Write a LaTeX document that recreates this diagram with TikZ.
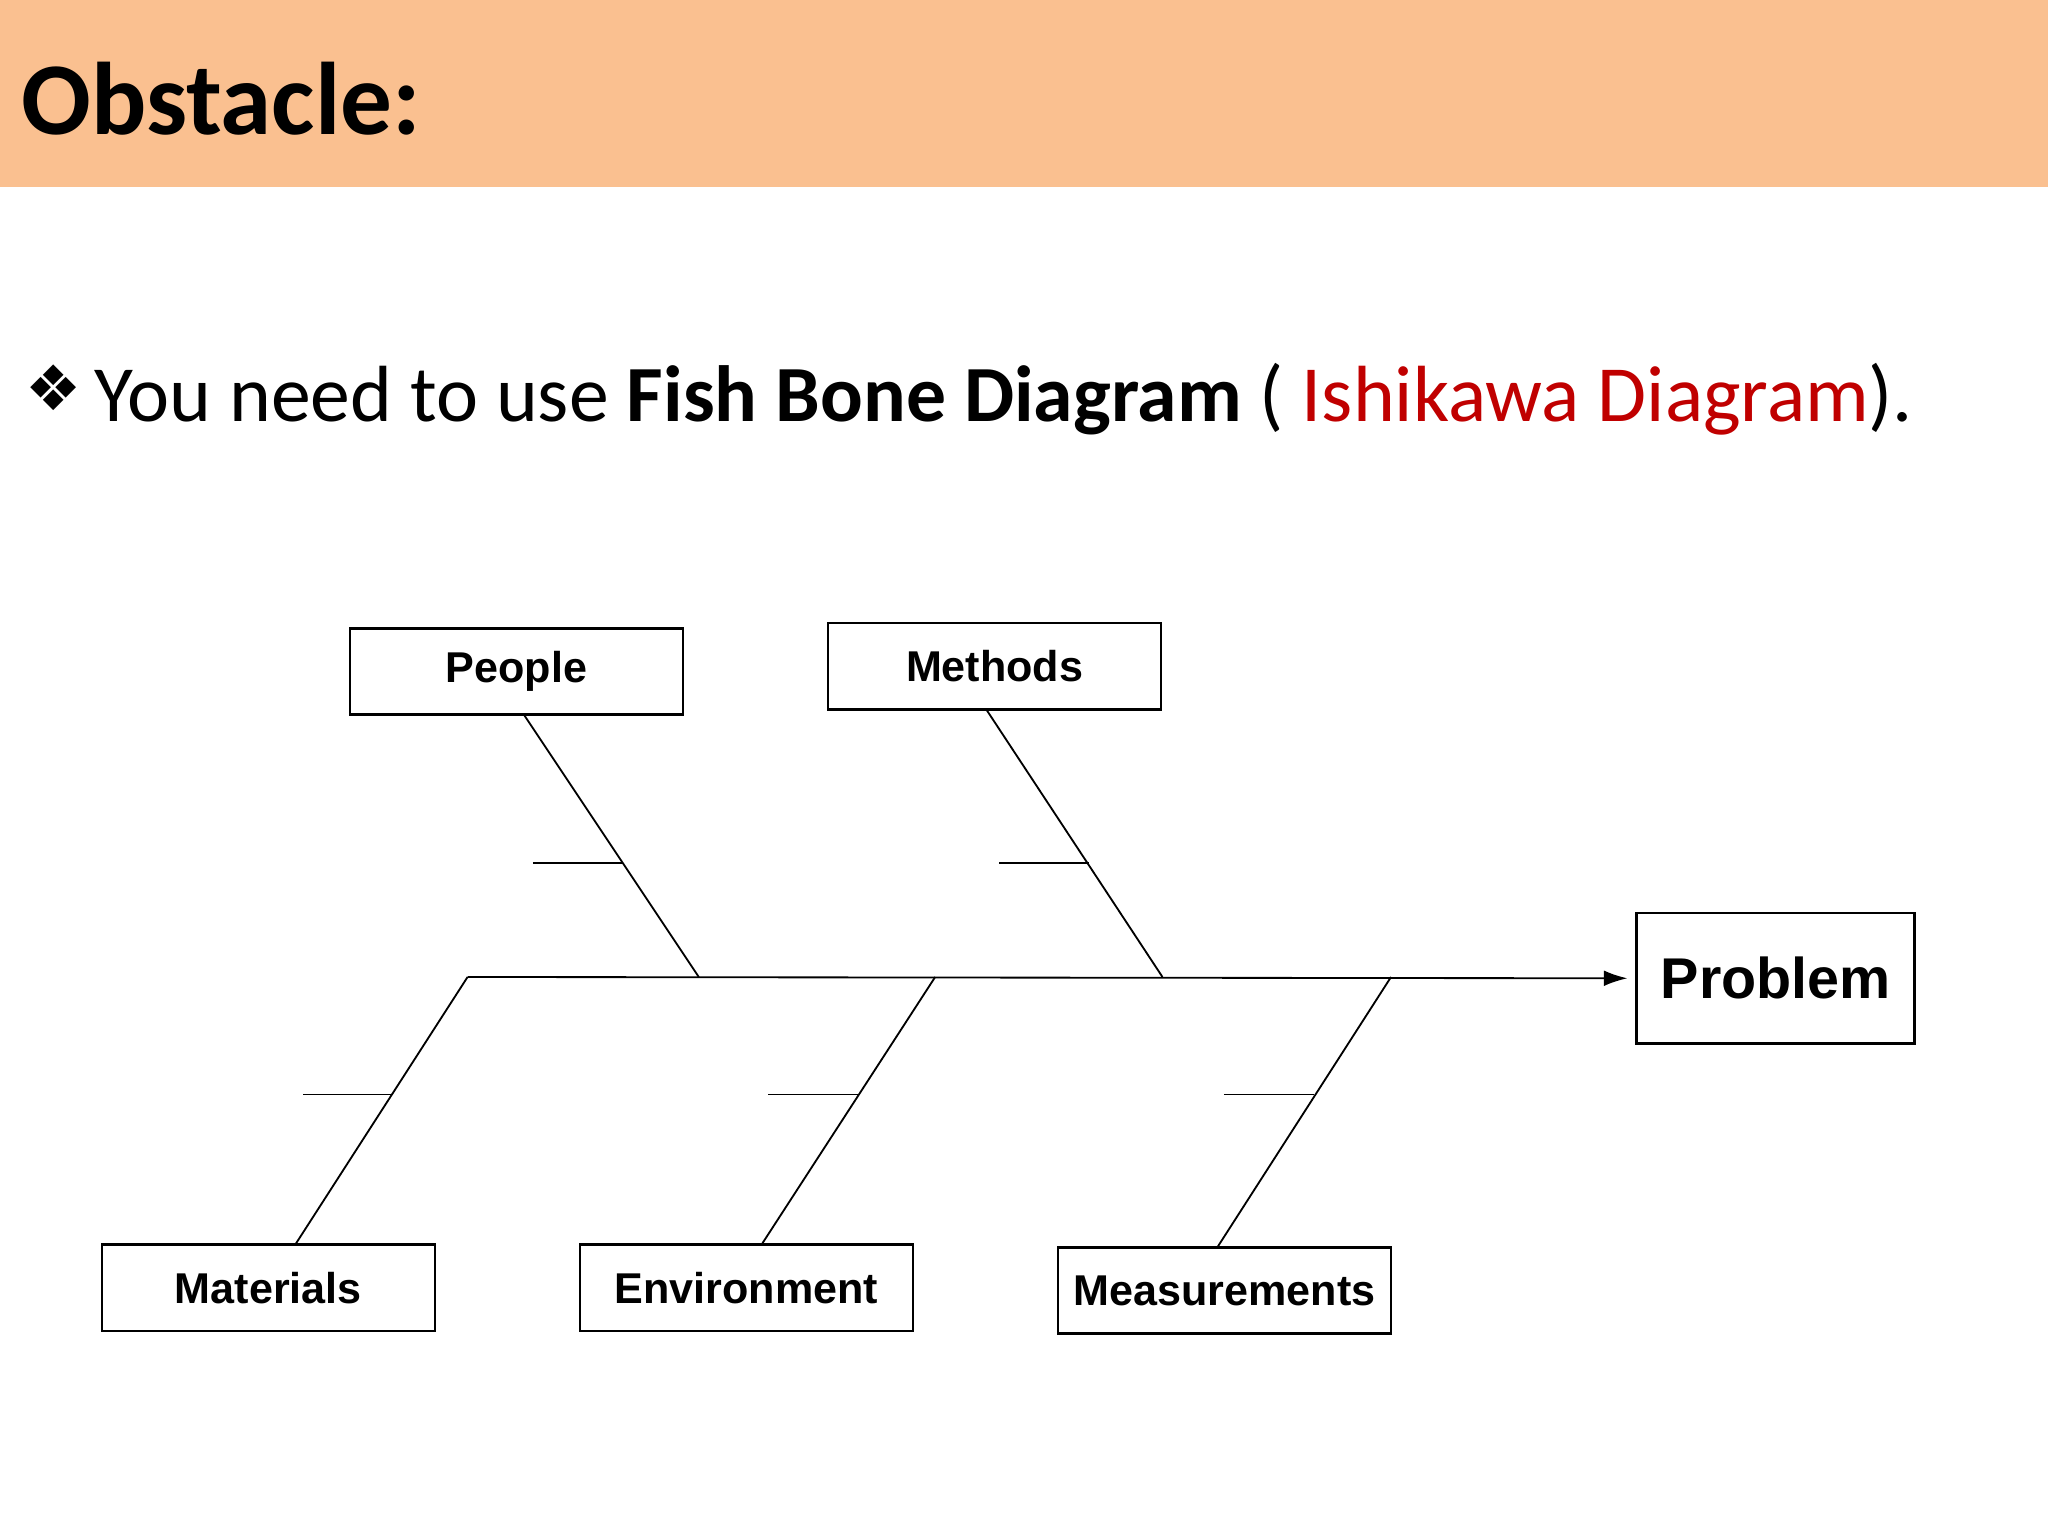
\documentclass[tikz,border=0pt]{standalone}
\usepackage{fontspec}
\usetikzlibrary{arrows.meta}
\setmainfont{Carlito}
\newfontfamily\arialf{Liberation Sans}
\newfontfamily\djv{DejaVu Sans}
\begin{document}
\begin{tikzpicture}[x=0.5pt,y=-0.5pt,
  lbl/.style={draw,line width=1pt,minimum width=127.5pt,minimum height=33pt,inner sep=0pt,font=\arialf\bfseries\fontsize{16.5}{19}\selectfont},
  bone/.style={line width=0.7pt}]
\useasboundingbox (0,0) rectangle (1568,1176);
\fill[fill={rgb,255:red,250;green,192;blue,144}] (0,0) rectangle (1568,143);
\node[anchor=base west,inner sep=0pt,font=\bfseries\fontsize{39.5}{46}\selectfont] (title) at (16,103) {Obstacle:};
\node[anchor=base west,inner sep=0pt,font=\djv\fontsize{24}{28}\selectfont] (bul) at (19,314) {❖};
\node[anchor=base west,inner sep=0pt,font=\fontsize{30.5}{36}\selectfont] (line) at (72,323) {You need to use \textbf{Fish Bone Diagram} ( \textcolor[RGB]{192,0,0}{Ishikawa Diagram}).};
\node[lbl] (people) at (395.5,514) {People};
\node[lbl] (methods) at (761.5,510) {Methods};
\node[lbl] (materials) at (205.5,986) {Materials};
\node[lbl] (env) at (571.5,986) {Environment};
\node[lbl] (meas) at (937.5,988) {Measurements};
\node[draw,line width=1pt,minimum width=106.5pt,minimum height=50pt,inner sep=0pt,font=\arialf\bfseries\fontsize{22}{26}\selectfont] (prob) at (1359.5,749) {Problem};
\coordinate (s0) at (358,748);
\coordinate (bp) at (535,748);
\coordinate (bm) at (890,748);
\coordinate (be) at (716,748);
\coordinate (bs) at (1065,748);
\draw[bone,-{Latex[length=9pt,width=6pt]}] (s0) -- ([xshift=-3pt]prob.west);
\draw[bone] (401,547) -- (bp);
\draw[bone] (755,543) -- (bm);
\draw[bone] (s0) -- (226,953);
\draw[bone] (be) -- (583,953);
\draw[bone] (bs) -- (932,955);
\draw[bone] (408,661) -- (476,661);
\draw[bone] (765,661) -- (834,661);
\draw[bone] (232,838) -- (300,838);
\draw[bone] (588,838) -- (657,838);
\draw[bone] (937,838) -- (1006,838);
\end{tikzpicture}
\end{document}
